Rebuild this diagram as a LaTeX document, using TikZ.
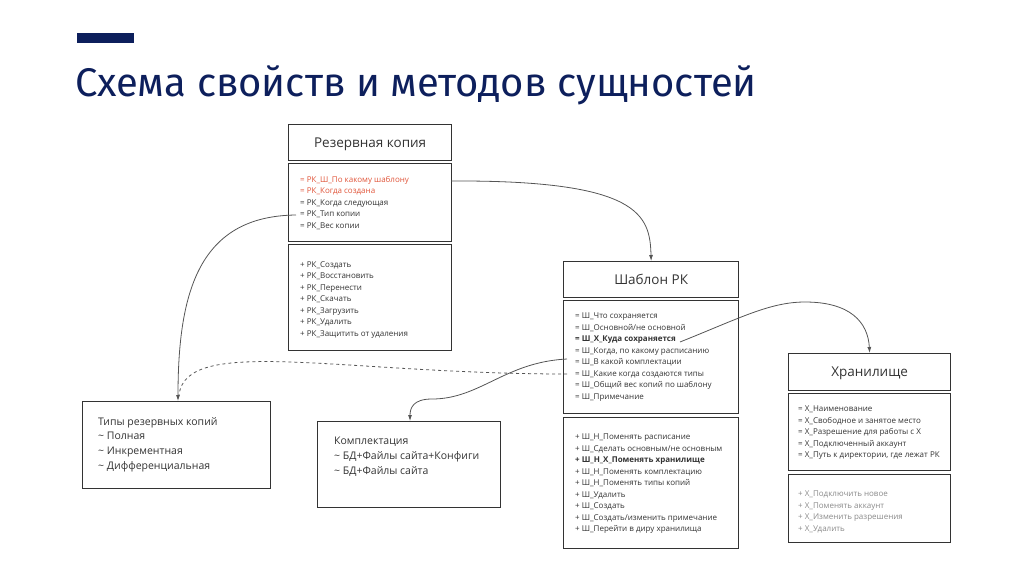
\documentclass[tikz,border=0pt]{standalone}
\usepackage{fontspec}
\setmainfont{Open Sans}
\newfontfamily\titlefont{Fira Sans}
\usetikzlibrary{arrows.meta}
\definecolor{navy}{HTML}{0D1F5C}
\definecolor{ink}{HTML}{333333}
\definecolor{redt}{HTML}{E0553A}
\definecolor{grayt}{HTML}{8A8A8A}
\definecolor{wire}{HTML}{555555}
\begin{document}
\begin{tikzpicture}[x=1pt,y=-1pt,
  box/.style={draw=ink, line width=1.3pt, anchor=north west, inner sep=0pt, text=ink},
  hdr/.style={box, font=\fontsize{13.5}{16}\selectfont, text depth=-2pt},
  lst/.style={anchor=north west, inner sep=0pt, align=left, text=ink, font=\fontsize{8}{11.5}\selectfont},
  big/.style={anchor=north west, inner sep=0pt, align=left, text=ink, font=\fontsize{10.5}{14.8}\selectfont},
  wirel/.style={draw=wire, line width=0.8pt},
  tip/.style={-{Latex[length=6pt,width=4pt]}}
]
\useasboundingbox (0,0) rectangle (1024,576);
% title
\fill[navy] (77,33) rectangle (134,43);
\node[anchor=base west, inner sep=0pt, text=navy, font=\titlefont\fontsize{40}{44}\selectfont] (title) at (75,96) {Схема свойств и методов сущностей};

% Резервная копия
\node[hdr, minimum width=163pt, minimum height=36pt] (rkh) at (288,124) {Резервная копия};
\node[box, minimum width=163pt, minimum height=78pt] (rka) at (288,163) {};
\node[box, minimum width=163pt, minimum height=106pt] (rkm) at (288,244) {};
\node[lst] (rkal) at (300,176) {\textcolor{redt}{= РК\_Ш\_По какому шаблону}\\\textcolor{redt}{= РК\_Когда создана}\\= РК\_Когда следующая\\= РК\_Тип копии\\= РК\_Вес копии};
\node[lst] (rkml) at (300,261) {+ РК\_Создать\\+ РК\_Восстановить\\+ РК\_Перенести\\+ РК\_Скачать\\+ РК\_Загрузить\\+ РК\_Удалить\\+ РК\_Защитить от удаления};

% Шаблон РК
\node[hdr, minimum width=175pt, minimum height=36pt] (sh) at (563,261) {Шаблон РК};
\node[box, minimum width=175pt, minimum height=113pt] (sa) at (563,300) {};
\node[box, minimum width=175pt, minimum height=131pt] (sm) at (563,417) {};
\node[lst] (sal) at (575,313) {= Ш\_Что сохраняется\\= Ш\_Основной/не основной\\\textbf{= Ш\_Х\_Куда сохраняется}\\= Ш\_Когда, по какому расписанию\\= Ш\_В какой комплектации\\= Ш\_Какие когда создаются типы\\= Ш\_Общий вес копий по шаблону\\= Ш\_Примечание};
\node[lst] (sml) at (575,434) {+ Ш\_Н\_Поменять расписание\\+ Ш\_Сделать основным/не основным\\\textbf{+ Ш\_Н\_Х\_Поменять хранилище}\\+ Ш\_Н\_Поменять комплектацию\\+ Ш\_Н\_Поменять типы копий\\+ Ш\_Удалить\\+ Ш\_Создать\\+ Ш\_Создать/изменить примечание\\+ Ш\_Перейти в диру хранилища};

% Хранилище
\node[hdr, minimum width=162pt, minimum height=37pt] (xh) at (788,353) {Хранилище};
\node[box, minimum width=162pt, minimum height=77pt] (xa) at (788,393) {};
\node[box, minimum width=162pt, minimum height=68pt] (xm) at (788,474) {};
\node[lst] (xal) at (798,406) {= Х\_Наименование\\= Х\_Свободное и занятое место\\= Х\_Разрешение для работы с Х\\= Х\_Подключенный аккаунт\\= Х\_Путь к директории, где лежат РК};
\node[lst, text=grayt] (xml) at (798,491) {+ Х\_Подключить новое\\+ Х\_Поменять аккаунт\\+ Х\_Изменить разрешения\\+ Х\_Удалить};

% Типы
\node[box, minimum width=188pt, minimum height=87pt] (tt) at (82,401) {};
\node[big] (ttl) at (98,417) {Типы резервных копий\\\textasciitilde{} Полная\\\textasciitilde{} Инкрементная\\\textasciitilde{} Дифференциальная};

% Комплектация
\node[box, minimum width=183pt, minimum height=86pt] (kk) at (317,421) {};
\node[big] (kkl) at (334,437) {Комплектация\\\textasciitilde{} БД+Файлы сайта+Конфиги\\\textasciitilde{} БД+Файлы сайта};

% connector anchors
\coordinate (s1) at (451,181);
\coordinate (s2) at (296,215);
\coordinate (s3) at (567,374);
\coordinate (s4) at (567,359);
\coordinate (s5) at (680,342);
\coordinate (e2) at (178,401);

\draw[wirel,tip] (s1) .. controls (640,180) and (650,215) .. (sh.north);
\draw[wirel,tip] (s2) .. controls (200,216) and (178,290) .. (e2);
\draw[wirel,dashed] (s3) .. controls (340,374) and (186,335) .. (179,395);
\draw[wirel,tip] (s4) .. controls (505,362) and (480,399) .. (432,399) .. controls (413,399) and (410,408) .. (kk.north -| 410,421);
\draw[wirel,tip] (s5) .. controls (740,318) and (770,302) .. (805,302) .. controls (850,302) and (868,322) .. (xh.north);
\end{tikzpicture}
\end{document}
